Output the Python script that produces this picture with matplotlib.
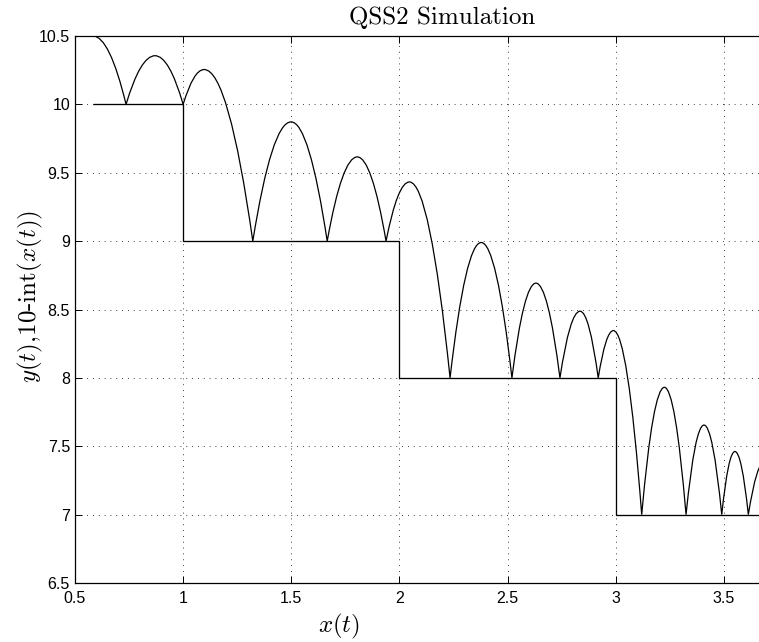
import numpy as np
import matplotlib
matplotlib.use("Agg")
import matplotlib.pyplot as plt
from matplotlib.path import Path
from matplotlib.patches import PathPatch

plt.rcParams['mathtext.fontset'] = 'cm'

# ---- data ----
# trajectory: starts at an apex, then a sequence of arcs (bounce -> apex -> bounce)
apex_x = [0.583, 0.870, 1.097, 1.499, 1.805, 2.046, 2.378, 2.631, 2.835, 2.989, 3.225, 3.408, 3.551, 3.690]
apex_y = [10.5, 10.356, 10.255, 9.872, 9.616, 9.433, 8.990, 8.693, 8.488, 8.346, 7.931, 7.655, 7.462, 7.390]
bounce_x = [0.736, 1.000, 1.322, 1.666, 1.938, 2.234, 2.520, 2.742, 2.919, 3.120, 3.325, 3.490, 3.613, 3.767]
bounce_y = [10, 10, 9, 9, 9, 8, 8, 8, 8, 7, 7, 7, 7, 7]

# staircase 10-int(x)
stair_edges = [0.583, 1.0, 2.0, 3.0, 3.767]
stair_levels = [10, 9, 8, 7]

xticks = [0.5, 1, 1.5, 2, 2.5, 3, 3.5]
xticklabels = ['0.5', '1', '1.5', '2', '2.5', '3', '3.5']
yticks = [6.5, 7, 7.5, 8, 8.5, 9, 9.5, 10, 10.5]
yticklabels = ['6.5', '7', '7.5', '8', '8.5', '9', '9.5', '10', '10.5']

W, H = 759, 642
fig = plt.figure(figsize=(W / 100, H / 100), dpi=100)
L, R, T, B = 75, 759, 36, 583
ax = fig.add_axes([L / W, 1 - B / H, (R - L) / W, (B - T) / H])

# build trajectory path from parabolic half-arcs (quadratic Bezier)
verts = [(apex_x[0], apex_y[0])]
codes = [Path.MOVETO]
verts += [((apex_x[0] + bounce_x[0]) / 2, apex_y[0]), (bounce_x[0], bounce_y[0])]
codes += [Path.CURVE3, Path.CURVE3]
for i in range(1, len(apex_x)):
    x0, y0 = bounce_x[i - 1], bounce_y[i - 1]
    xp, yp = apex_x[i], apex_y[i]
    x1, y1 = bounce_x[i], bounce_y[i]
    verts += [((x0 + xp) / 2, yp), (xp, yp), ((xp + x1) / 2, yp), (x1, y1)]
    codes += [Path.CURVE3, Path.CURVE3, Path.CURVE3, Path.CURVE3]
traj = PathPatch(Path(verts, codes), fill=False, edgecolor='k', lw=0.9,
                 transform=ax.transData, zorder=3)
ax.add_patch(traj)

ax.stairs(stair_levels, edges=stair_edges, baseline=None, color='k', lw=0.95, zorder=3)

ax.set_xlim(0.5, 0.5 + (R - L) / 216.3)
ax.set_ylim(6.5, 10.5)
ax.set_xticks(xticks)
ax.set_xticklabels(xticklabels)
ax.set_yticks(yticks)
ax.set_yticklabels(yticklabels)

ax.grid(True, color='k', lw=0.6, linestyle=(0, (1, 6)))
ax.set_axisbelow(True)

for s in ['left', 'top', 'bottom']:
    ax.spines[s].set_linewidth(0.9)
    ax.spines[s].set_color('k')
ax.spines['right'].set_visible(False)

ax.tick_params(axis='both', direction='in', length=5, width=0.7, top=True, right=False,
               labelsize=11.5, colors='k')
ax.tick_params(axis='y', pad=3.6)
ax.tick_params(axis='x', pad=6)
for lab in ax.get_xticklabels() + ax.get_yticklabels():
    lab.set_fontfamily('Liberation Sans')

fig.text(442 / W, 1 - 24 / H, 'QSS2 Simulation', fontfamily='cmr10', fontsize=18,
         ha='center', va='baseline')
fig.text(339 / W, 1 - 626 / H, r'$x(t)$', fontsize=18, ha='center', va='center')
fig.text(30 / W, 1 - 296 / H, r'$y(t)$,10-int$(x(t))$', fontfamily='cmr10', fontsize=18,
         rotation=90, ha='center', va='center')

fig.savefig('out.png', dpi=100)
